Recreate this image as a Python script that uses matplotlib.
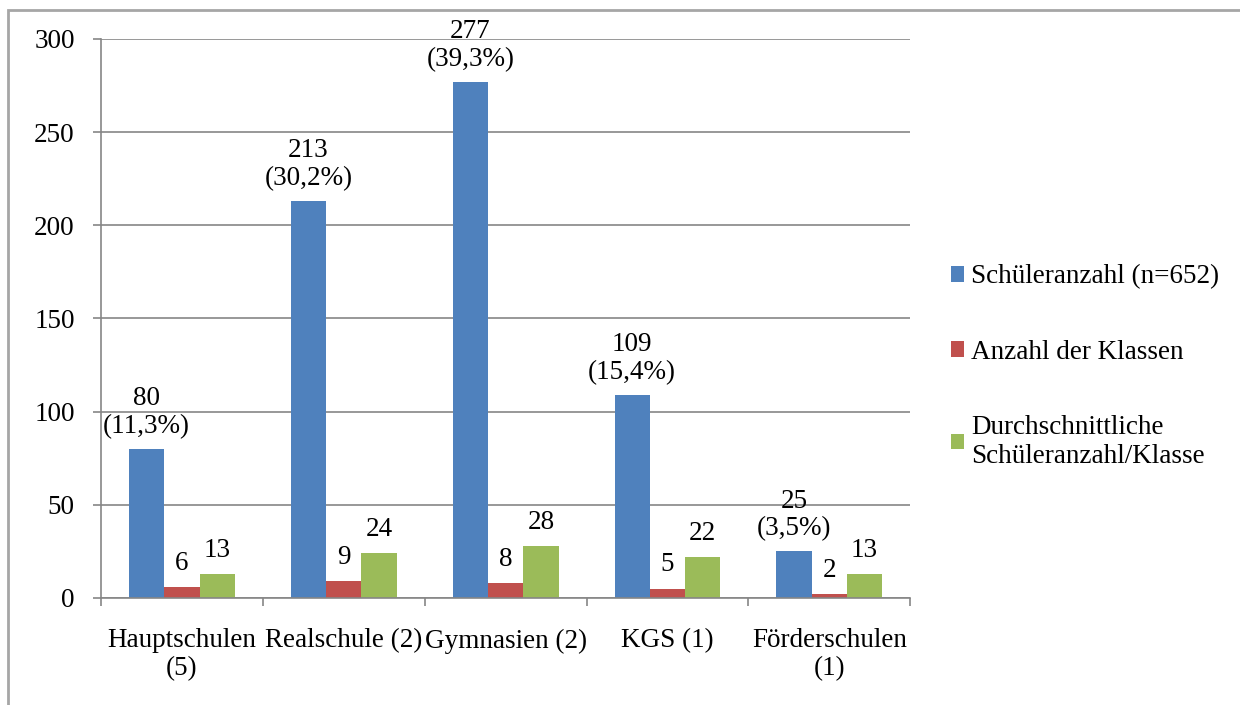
import numpy as np
import matplotlib.pyplot as plt
from matplotlib.patches import Rectangle

plt.rcParams['font.family'] = ['Liberation Serif', 'DejaVu Serif']

schulen = ['Hauptschulen\n(5)', 'Realschule (2)', 'Gymnasien (2)', 'KGS (1)', 'Förderschulen\n(1)']
schueler = [80, 213, 277, 109, 25]
prozent = ['11,3%', '30,2%', '39,3%', '15,4%', '3,5%']
klassen = [6, 9, 8, 5, 2]
durchschnitt = [13, 24, 28, 22, 13]

serien = ['Schüleranzahl (n=652)', 'Anzahl der Klassen', 'Durchschnittliche\nSchüleranzahl/Klasse']
farben = ['#4F81BD', '#C0504D', '#9BBB59']
grau = '#868686'
fs = 19.5

fig = plt.figure(figsize=(12.4, 7.05), dpi=100)
ax = fig.add_axes([0.0815, 0.152, 0.6525, 0.7927])

# Rahmen um das Diagramm
fig.patches.append(Rectangle((8 / 1240, -0.1), 1.2, 1 - 10 / 705 + 0.1,
                             transform=fig.transFigure, fill=False,
                             edgecolor='#A6A6A6', linewidth=2))

x = np.arange(len(schulen))
w = 0.218
b1 = ax.bar(x - w, schueler, w, color=farben[0], label=serien[0])
b2 = ax.bar(x, klassen, w, color=farben[1], label=serien[1])
b3 = ax.bar(x + w, durchschnitt, w, color=farben[2], label=serien[2])

for rect, v, p in zip(b1, schueler, prozent):
    ax.annotate(f'{v}\n({p})', (rect.get_x() + rect.get_width() / 2, v),
                xytext=(0, 7), textcoords='offset points', ha='center', va='bottom',
                fontsize=fs, linespacing=1.15)
for bars, vals in [(b2, klassen), (b3, durchschnitt)]:
    for rect, v in zip(bars, vals):
        ax.annotate(f'{v}', (rect.get_x() + rect.get_width() / 2, v),
                    xytext=(0, 8), textcoords='offset points', ha='center', va='bottom',
                    fontsize=fs)

ax.set_xlim(-0.5, 4.5)
ax.set_ylim(0, 300)
ax.set_yticks(range(0, 301, 50))
ax.grid(axis='y', color=grau, linewidth=1.2)
ax.set_axisbelow(True)

ax.set_xticks(x)
ax.set_xticklabels(schulen, fontsize=fs, linespacing=1.15)
ax.tick_params(axis='x', length=0, pad=22)
ax.set_xticks(np.arange(-0.5, 5.0, 1), minor=True)
ax.tick_params(axis='x', which='minor', length=6, color=grau, width=1.2)
ax.tick_params(axis='y', length=6, color=grau, width=1.2, labelsize=fs, pad=13)

for s in ['top', 'right']:
    ax.spines[s].set_visible(False)
for s in ['left', 'bottom']:
    ax.spines[s].set_color(grau)
    ax.spines[s].set_linewidth(1.2)

fig.legend(loc='center left', bbox_to_anchor=(0.747, 0.48), frameon=False,
           fontsize=fs, handlelength=0.5, handleheight=0.5, handletextpad=0.25,
           labelspacing=1.85)

fig.savefig('out.png', dpi=100)
